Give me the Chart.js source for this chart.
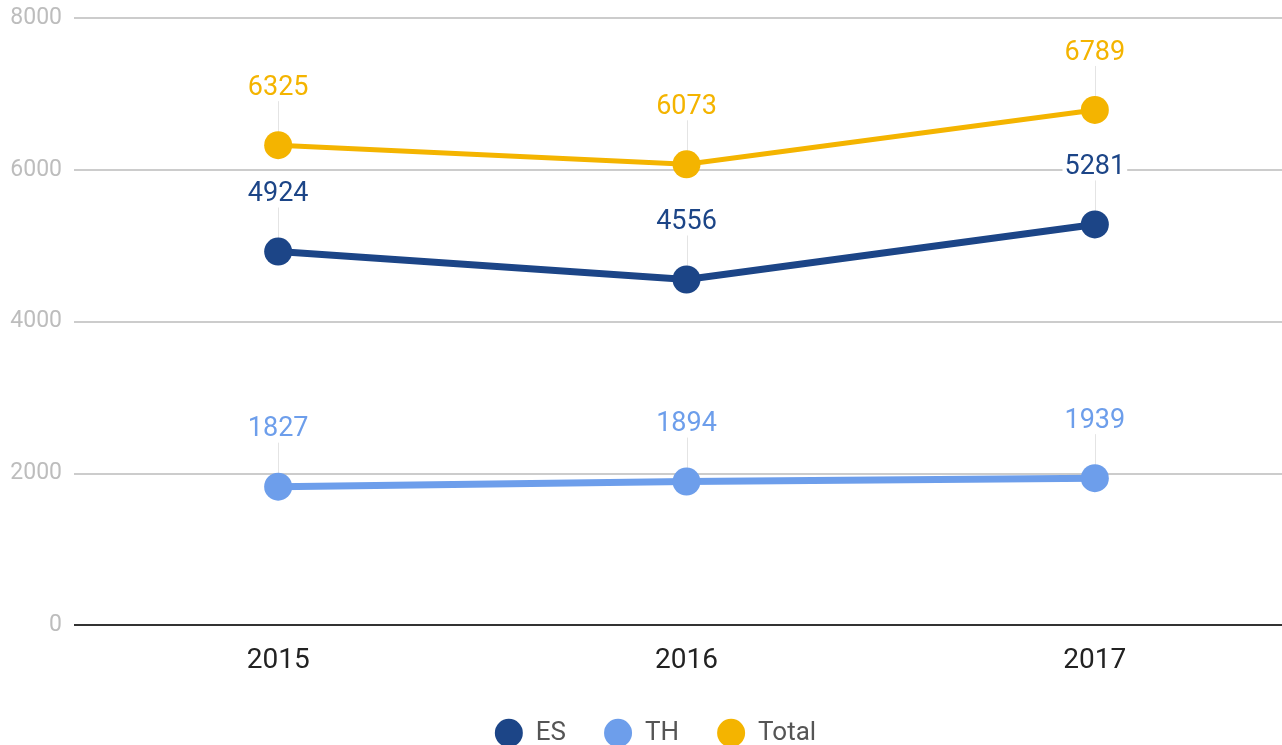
<!DOCTYPE html>
<html>
<head>
<meta charset="utf-8">
<script src="https://cdn.jsdelivr.net/npm/chart.js@4.4.1/dist/chart.umd.min.js"></script>
<style>
  html, body { margin: 0; padding: 0; background: #fff; overflow: hidden; }
  #wrap { width: 1313px; height: 745px; }
</style>
</head>
<body>
<div id="wrap"><canvas id="chart" width="1313" height="745"></canvas></div>
<script>
// Categories and values
const years = ['2015', '2016', '2017'];
const esValues = [4924, 4556, 5281];
const thValues = [1827, 1894, 1939];
const totalValues = [6325, 6073, 6789];
const yTicks = [0, 2000, 4000, 6000, 8000];

const colors = {
    ES: '#1c4587',
    TH: '#6d9eeb',
    Total: '#f4b400'
};

function makeSet(label, data, width) {
    return {
        label: label,
        data: data,
        borderColor: colors[label],
        backgroundColor: colors[label],
        pointBackgroundColor: colors[label],
        pointBorderWidth: 0,
        pointRadius: 14,
        pointHoverRadius: 14,
        borderWidth: width,
        tension: 0
    };
}

// Value labels with a thin leader line down to the point
const valueLabels = {
    id: 'valueLabels',
    beforeDatasetsDraw(chart) {
        const ctx = chart.ctx;
        ctx.save();
        ctx.strokeStyle = '#e4e4e4';
        ctx.lineWidth = 1;
        chart.data.datasets.forEach((ds, i) => {
            chart.getDatasetMeta(i).data.forEach((pt) => {
                ctx.beginPath();
                ctx.moveTo(Math.round(pt.x) + 0.5, pt.y - 44);
                ctx.lineTo(Math.round(pt.x) + 0.5, pt.y);
                ctx.stroke();
            });
        });
        ctx.restore();
    },
    afterDatasetsDraw(chart) {
        const ctx = chart.ctx;
        ctx.save();
        ctx.font = '27px Roboto';
        ctx.textAlign = 'center';
        ctx.textBaseline = 'middle';
        chart.data.datasets.forEach((ds, i) => {
            chart.getDatasetMeta(i).data.forEach((pt, j) => {
                const text = String(ds.data[j]);
                const w = ctx.measureText(text).width;
                const cy = pt.y - 58;
                ctx.fillStyle = '#fff';
                ctx.fillRect(pt.x - w / 2 - 2, cy - 12, w + 4, 24);
                ctx.fillStyle = ds.borderColor;
                ctx.fillText(text, pt.x, cy + 1);
            });
        });
        ctx.restore();
    }
};

const defaultLabels = Chart.defaults.plugins.legend.labels.generateLabels;

new Chart(document.getElementById('chart'), {
    type: 'line',
    data: {
        labels: years,
        datasets: [
            makeSet('ES', esValues, 7),
            makeSet('TH', thValues, 7),
            makeSet('Total', totalValues, 5)
        ]
    },
    options: {
        responsive: false,
        animation: false,
        layout: { padding: { top: 18, right: 2, bottom: -11, left: 0 } },
        plugins: {
            tooltip: { enabled: false },
            legend: {
                position: 'bottom',
                labels: {
                    usePointStyle: true,
                    pointStyle: 'circle',
                    boxHeight: 20,
                    pointStyleWidth: 28,
                    padding: 38,
                    color: '#555',
                    font: { family: 'Roboto', size: 26 },
                    generateLabels(chart) {
                        return defaultLabels(chart).map((l) => Object.assign(l, { lineWidth: 0 }));
                    }
                }
            }
        },
        scales: {
            x: {
                offset: true,
                grid: { display: false },
                border: { display: false },
                afterFit(scale) {
                    scale.height -= 7;
                },
                ticks: {
                    color: '#222',
                    padding: 11,
                    font: { family: 'Roboto', size: 28 }
                }
            },
            y: {
                min: 0,
                max: 8000,
                afterBuildTicks(scale) {
                    scale.ticks = yTicks.map((v) => ({ value: v }));
                },
                afterFit(scale) {
                    scale.width = 74;
                    scale.paddingTop = 0;
                    scale.paddingBottom = 0;
                },
                grid: {
                    drawTicks: false,
                    lineWidth: 2,
                    color: (c) => (c.tick && c.tick.value === 0 ? '#333' : '#cccccc')
                },
                border: { display: false },
                ticks: {
                    color: '#bdbdbd',
                    padding: 12,
                    font: { family: 'Roboto', size: 23 },
                    callback: (v) => String(v)
                }
            }
        }
    },
    plugins: [valueLabels]
});
</script>
</body>
</html>
